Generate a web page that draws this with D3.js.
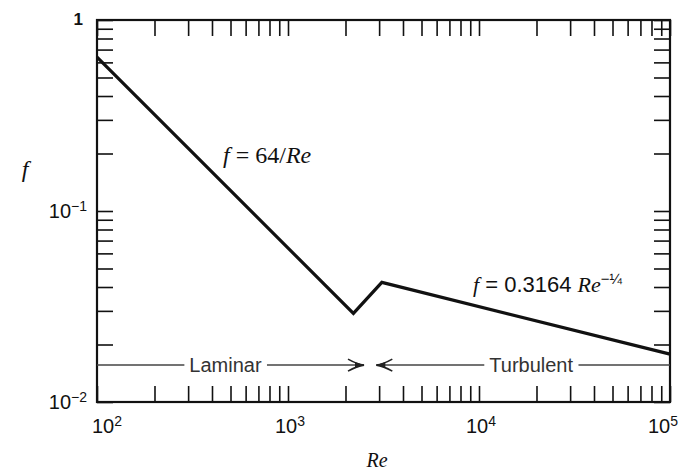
<!DOCTYPE html>
<html>
<head>
<meta charset="utf-8" />
<title>friction factor</title>
<script src="https://cdn.jsdelivr.net/npm/d3@7"></script>
<style>
body { margin: 0; background: #fff; }
svg { display: block; }
.axis path.domain { display: none; }
.axis line { stroke: #111; stroke-width: 1.6px; }
.lbl { font-family: "Liberation Sans", Arial, sans-serif; fill: #111; }
.math { font-family: "Liberation Serif", "Times New Roman", serif; fill: #111; }
</style>
</head>
<body>
<div id="viz"></div>
<script>
// curve (Re, f) - straight pieces on log-log axes
var reValues = [100, 2200, 3100, 100000];
var fValues  = [0.64, 0.0291, 0.0423, 0.0178];

// decade labels, shown as 10^n
var xTickExps = [2, 3, 4, 5];
var yTickExps = [0, -1, -2];

// flow regimes marked along the bottom
var regimeNames = ["Laminar", "Turbulent"];
var regimeFrom  = [100, 2900];
var regimeTo    = [2500, 100000];
var regimeF = 0.0156;

var margin = {top: 20, right: 20, bottom: 69, left: 97},
    width = 690 - margin.left - margin.right,
    height = 471 - margin.top - margin.bottom;

var svg = d3.select("#viz").append("svg")
    .attr("width", 690)
    .attr("height", 471);

var defs = svg.append("defs");
var head = defs.append("marker")
    .attr("id", "head")
    .attr("viewBox", "-18 -8 20 16")
    .attr("refX", 0).attr("refY", 0)
    .attr("markerUnits", "userSpaceOnUse")
    .attr("markerWidth", 20).attr("markerHeight", 16)
    .attr("orient", "auto");
head.append("path")
    .attr("d", "M-16,-6 Q-7,-1 0,0 Q-7,1 -16,6")
    .attr("fill", "none").attr("stroke", "#222").attr("stroke-width", 1.6);
head.append("path")
    .attr("d", "M-9,-3 L0,0 L-9,3 Z")
    .attr("fill", "#222");

var g = svg.append("g")
    .attr("transform", "translate(" + margin.left + "," + margin.top + ")");

var x = d3.scaleLog().domain([100, 100000]).range([0, width]),
    y = d3.scaleLog().domain([0.01, 1]).range([height, 0]);

// inward ticks on all four sides
g.append("g").attr("class", "axis")
    .attr("transform", "translate(0," + height + ")")
    .call(d3.axisBottom(x).tickSize(-16).tickFormat(""));
g.append("g").attr("class", "axis")
    .call(d3.axisTop(x).tickSize(-16).tickFormat(""));
g.append("g").attr("class", "axis")
    .call(d3.axisLeft(y).tickSize(-16).tickFormat(""));
g.append("g").attr("class", "axis")
    .attr("transform", "translate(" + width + ",0)")
    .call(d3.axisRight(y).tickSize(-16).tickFormat(""));

g.append("rect")
    .attr("width", width).attr("height", height)
    .attr("fill", "none").attr("stroke", "#111").attr("stroke-width", 2.2);

function expText(n) { return n < 0 ? "\u2212" + (-n) : "" + n; }

// x decade labels
var xl = g.selectAll(".xlab")
  .data(xTickExps)
  .enter().append("text")
    .attr("class", "lbl xlab")
    .attr("x", function(d, i) { return x(Math.pow(10, d)) + (i === 0 ? 10 : i === xTickExps.length - 1 ? -7 : 2); })
    .attr("y", height + 31)
    .attr("text-anchor", "middle")
    .style("font-size", "20px");
xl.append("tspan").text("10");
xl.append("tspan").attr("dy", "-0.5em").style("font-size", "14px").text(function(d) { return expText(d); });

// y decade labels
var yl = g.selectAll(".ylab")
  .data(yTickExps)
  .enter().append("text")
    .attr("class", "lbl ylab")
    .attr("x", -10)
    .attr("y", function(d) { return y(Math.pow(10, d)) + 7; })
    .attr("text-anchor", "end")
    .style("font-size", "20px");
yl.filter(function(d) { return d === 0; })
    .attr("x", -14).attr("y", 5).style("font-weight", "bold").style("font-size", "17px")
    .text("1");
yl.filter(function(d) { return d !== 0; }).each(function(d) {
  var t = d3.select(this);
  t.append("tspan").text("10");
  t.append("tspan").attr("dy", "-0.5em").style("font-size", "14px").text(expText(d));
});

// friction factor curve
var pts = reValues.map(function(r, i) { return {re: r, f: fValues[i]}; });
var line = d3.line()
    .x(function(d) { return x(d.re); })
    .y(function(d) { return y(d.f); });
g.append("path")
    .datum(pts)
    .attr("d", line)
    .attr("fill", "none")
    .attr("stroke", "#111")
    .attr("stroke-width", 3.2)
    .attr("stroke-linejoin", "miter");

// regime arrows
regimeNames.forEach(function(name, i) {
  var x0 = x(regimeFrom[i]), x1 = x(regimeTo[i]), yy = y(regimeF);
  var pointsRight = i === 0;
  g.append("line")
      .attr("x1", pointsRight ? x0 : x1).attr("x2", pointsRight ? x1 : x0)
      .attr("y1", yy).attr("y2", yy)
      .attr("stroke", "#444").attr("stroke-width", 1.5)
      .attr("marker-end", "url(#head)");
  var cx = (x0 + x1) / 2 + (pointsRight ? -5 : 8);
  var bg = g.append("rect").attr("fill", "#fff");
  var t = g.append("text")
      .attr("class", "lbl")
      .attr("x", cx).attr("y", yy)
      .attr("dy", "0.36em")
      .attr("text-anchor", "middle")
      .style("font-size", "20px")
      .style("fill", "#333")
      .text(name);
  var b = t.node().getBBox();
  bg.attr("x", b.x - 5).attr("y", b.y).attr("width", b.width + 10).attr("height", b.height);
});

// formula annotations
var f1 = svg.append("text").attr("class", "math")
    .attr("x", 223).attr("y", 163)
    .style("font-size", "24px");
f1.append("tspan").style("font-style", "italic").text("f");
f1.append("tspan").text(" = 64/");
f1.append("tspan").style("font-style", "italic").text("Re");

var f2 = svg.append("text").attr("class", "math")
    .attr("x", 473).attr("y", 292)
    .style("font-size", "22px");
f2.append("tspan").style("font-style", "italic").text("f");
f2.append("tspan").style("font-family", "'Liberation Sans', Arial, sans-serif").text(" = 0.3164 ");
f2.append("tspan").style("font-style", "italic").text("Re");
f2.append("tspan").attr("dy", "-0.55em").style("font-size", "15px")
    .style("font-family", "'Liberation Sans', Arial, sans-serif").text("\u2212\u00bc");

// axis titles
svg.append("text").attr("class", "math")
    .attr("x", 25).attr("y", 177)
    .attr("text-anchor", "middle")
    .style("font-size", "24px").style("font-style", "italic")
    .text("f");
svg.append("text").attr("class", "math")
    .attr("x", 377).attr("y", 467)
    .attr("text-anchor", "middle")
    .style("font-size", "20px").style("font-style", "italic")
    .text("Re");
</script>
</body>
</html>
